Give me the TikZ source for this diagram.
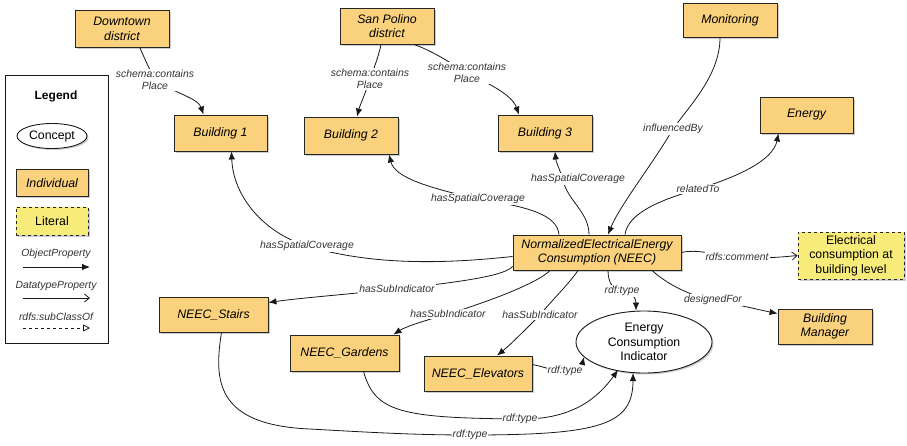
\documentclass[tikz,border=0pt]{standalone}
\usepackage{fontspec}
\setmainfont{Liberation Sans}
\usetikzlibrary{arrows.meta,shadows,shapes.geometric,calc}
\definecolor{indfill}{HTML}{FAD27E}
\definecolor{litfill}{HTML}{F7EB7A}
\definecolor{labcol}{HTML}{333333}
\begin{document}
\begin{tikzpicture}[x=1pt,y=-1pt,
  shad/.style={drop shadow={shadow xshift=1.5pt,shadow yshift=-1.5pt,opacity=0.4}},
  ind/.style={draw=black!85, line width=0.9pt, fill=indfill, shad, align=center, inner sep=1pt,
    font=\fontsize{12.3}{14.5}\selectfont\itshape},
  lit/.style={draw=black!85, dashed, line width=0.9pt, fill=litfill, shad, align=center, inner sep=1pt,
    font=\fontsize{12.3}{14.5}\selectfont},
  concept/.style={ellipse, draw=black!90, line width=0.9pt, fill=white, shad, align=center, inner sep=0pt,
    font=\fontsize{12.3}{14.5}\selectfont},
  lab/.style={fill=white, inner sep=1pt, text=labcol, align=center,
    font=\fontsize{10.4}{12}\selectfont\itshape},
  obj/.style={draw=black!90, line width=0.8pt, -{Latex[length=8pt,width=6.5pt]}},
  dat/.style={draw=black!90, line width=0.8pt, -{Straight Barb[length=5pt,width=8pt]}},
  subc/.style={draw=black!90, line width=0.8pt, dashed, -{Triangle[open,length=7pt,width=7pt]}}
]
\useasboundingbox (0,0) rectangle (907,445);

% ---------------- Legend ----------------
\node[draw=black!90, line width=0.8pt, minimum width=103pt, minimum height=268pt, inner sep=0pt] (legend) at (56.5,209) {};
\node[font=\fontsize{12}{14}\selectfont\bfseries] (legtitle) at (56,96) {Legend};
\node[concept, minimum width=70pt, minimum height=25pt] (legconcept) at (52,136) {Concept};
\node[ind, minimum width=72pt, minimum height=27pt] (legind) at (52,183) {Individual};
\node[lit, minimum width=72pt, minimum height=28pt] (leglit) at (52,221) {Literal};
\node[lab, fill=none] (legobj) at (56,254) {ObjectProperty};
\coordinate (lo1) at (23,267); \coordinate (lo2) at (90,267);
\draw[obj] (lo1) -- (lo2);
\node[lab, fill=none] (legdat) at (56,286) {DatatypeProperty};
\coordinate (ld1) at (23,298); \coordinate (ld2) at (90,298);
\draw[dat] (ld1) -- (ld2);
\node[lab, fill=none] (legsub) at (56,317) {rdfs:subClassOf};
\coordinate (ls1) at (23,328); \coordinate (ls2) at (90,328);
\draw[subc] (ls1) -- (ls2);

% ---------------- Nodes ----------------
\node[ind, minimum width=94pt, minimum height=37pt] (dd) at (122,29) {Downtown\\district};
\node[ind, minimum width=93pt, minimum height=36pt] (b1) at (220.5,133) {Building 1};
\node[ind, minimum width=94pt, minimum height=36pt] (sp) at (387,26) {San Polino\\district};
\node[ind, minimum width=94pt, minimum height=37pt] (b2) at (351,135.5) {Building 2};
\node[ind, minimum width=94pt, minimum height=36pt] (b3) at (545,133) {Building 3};
\node[ind, minimum width=94pt, minimum height=34pt] (mon) at (730,20) {Monitoring};
\node[ind, minimum width=93pt, minimum height=36pt] (en) at (806.5,115) {Energy};
\node[ind, minimum width=168pt, minimum height=35pt] (neec) at (597,252.5) {NormalizedElectricalEnergy\\Consumption (NEEC)};
\node[lit, minimum width=106pt, minimum height=47pt] (lit) at (851,255.5) {Electrical\\consumption at\\building level};
\node[ind, minimum width=94pt, minimum height=35pt] (bm) at (825,326.5) {Building\\Manager};
\node[concept, minimum width=136pt, minimum height=62pt] (ell) at (644,342) {Energy\\Consumption\\Indicator};
\node[ind, minimum width=109pt, minimum height=35pt] (st) at (213.5,314.5) {NEEC\_Stairs};
\node[ind, minimum width=109pt, minimum height=36pt] (gd) at (344.5,353) {NEEC\_Gardens};
\node[ind, minimum width=108pt, minimum height=35pt] (el) at (478,373.5) {NEEC\_Elevators};

% ---------------- label positions ----------------
\coordinate (c1) at (155,80);
\coordinate (c2) at (370,79);
\coordinate (c3) at (467,73);
\coordinate (c4) at (307,246);
\coordinate (c5) at (478,199);
\coordinate (c6) at (578,179);
\coordinate (c7) at (673,129);
\coordinate (c8) at (698,189);
\coordinate (c9) at (737,257);
\coordinate (c10) at (713,300);
\coordinate (c11) at (622,291);
\coordinate (c12) at (397,289);
\coordinate (c13) at (448,314);
\coordinate (c14) at (540,315);
\coordinate (c15) at (565,371);
\coordinate (c16) at (520,419);
\coordinate (c17) at (470,435);

% ---------------- Edges ----------------
\draw[obj] ($(dd.south)+(18,0)$) .. controls (146,62) and (150,70) .. (c1) .. controls (172,92) and (198,98) .. ($(b1.north)+(-17,0)$);
\draw[obj] ($(sp.south)+(-6,0)$) .. controls (379,55) and (374,68) .. (c2) .. controls (366,92) and (360,105) .. ($(b2.north)+(6,0)$);
\draw[obj] ($(sp.south)+(27,0)$) .. controls (435,52) and (452,64) .. (c3) .. controls (490,84) and (512,95) .. ($(b3.north)+(-26,0)$);
\draw[obj] ($(neec.west)+(0,4)$) .. controls (460,262) and (380,268) .. (c4) .. controls (262,232) and (233,195) .. ($(b1.south)+(11,0)$);
\draw[obj] ($(neec.north)+(-38,0)$) .. controls (557,215) and (530,207) .. (c5) .. controls (430,188) and (395,178) .. ($(b2.south)+(38,0)$);
\draw[obj] ($(neec.north)+(-8,0)$) .. controls (589,212) and (567,200) .. (563,180) .. controls (560,170) and (556,162) .. ($(b3.south)+(10,0)$);
\draw[obj] ($(mon.south)+(-10,0)$) .. controls (720,75) and (690,105) .. (c7) .. controls (652,165) and (620,205) .. ($(neec.north)+(11,0)$);
\draw[obj] ($(neec.north)+(28,0)$) .. controls (628,213) and (660,200) .. (c8) .. controls (740,176) and (773,160) .. ($(en.south)+(-28,0)$);
\draw[dat] (neec.east) .. controls (697,249) and (710,254) .. (c9) .. controls (762,259) and (782,257) .. (lit.west);
\draw[obj] ($(neec.south)+(55,0)$) .. controls (667,284) and (690,296) .. (c10) .. controls (740,305) and (760,310) .. ($(bm.west)+(0,-13)$);
\draw[obj] ($(neec.south)+(11,0)$) .. controls (608,284) and (614,290) .. (c11) .. controls (632,292) and (636,298) .. ($(ell.north)+(-8,0)$);
\draw[obj] ($(neec.west)+(0,14)$) .. controls (505,275) and (470,281) .. (c12) .. controls (340,295) and (300,298) .. ($(st.east)+(0,-12)$);
\draw[obj] ($(neec.south)+(-47,0)$) .. controls (540,281) and (500,298) .. (c13) .. controls (420,322) and (405,327) .. ($(gd.north east)+(-6,0)$);
\draw[obj] ($(neec.south)+(-19,0)$) .. controls (568,285) and (552,300) .. (c14) .. controls (525,330) and (510,345) .. ($(el.north)+(19,0)$);
\draw[obj] ($(el.east)+(0,-9)$) .. controls (545,367) and (553,371) .. (c15) .. controls (578,371) and (582,365) .. ($(ell.center)+(-60,15)$);
\draw[obj] ($(gd.south)+(19,0)$) .. controls (375,412) and (400,418) .. (c16) .. controls (575,420) and (600,395) .. ($(ell.center)+(-26,28)$);
\draw[obj] ($(st.south)+(8,0)$) .. controls (214,380) and (215,425) .. (310,429) .. controls (380,433) and (420,435) .. (c17) .. controls (600,435) and (633,425) .. ($(ell.center)+(-11,31)$);

% ---------------- Labels ----------------
\node[lab] (t1) at (c1) {schema:contains\\Place};
\node[lab] (t2) at (c2) {schema:contains\\Place};
\node[lab] (t3) at (c3) {schema:contains\\Place};
\node[lab] (t4) at (c4) {hasSpatialCoverage};
\node[lab] (t5) at (c5) {hasSpatialCoverage};
\node[lab] (t6) at (c6) {hasSpatialCoverage};
\node[lab] (t7) at (c7) {influencedBy};
\node[lab] (t8) at (c8) {relatedTo};
\node[lab] (t9) at (c9) {rdfs:comment};
\node[lab] (t10) at (c10) {designedFor};
\node[lab] (t11) at (c11) {rdf:type};
\node[lab] (t12) at (c12) {hasSubIndicator};
\node[lab] (t13) at (c13) {hasSubIndicator};
\node[lab] (t14) at (c14) {hasSubIndicator};
\node[lab] (t15) at (c15) {rdf:type};
\node[lab] (t16) at (c16) {rdf:type};
\node[lab] (t17) at (c17) {rdf:type};
\end{tikzpicture}
\end{document}
